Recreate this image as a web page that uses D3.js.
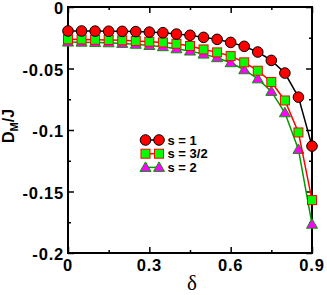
<!DOCTYPE html>
<html>
<head>
<meta charset="utf-8">
<script src="https://cdn.jsdelivr.net/npm/d3@7"></script>
<style>
  body { margin: 0; background: #fff; }
  text { font-family: "Liberation Sans", Arial, sans-serif; font-weight: bold; }
</style>
</head>
<body>
<div id="chart-area"></div>
<script>
// data
const delta = [0, 0.05, 0.1, 0.15, 0.2, 0.25, 0.3, 0.35, 0.4, 0.45, 0.5, 0.55, 0.6, 0.65, 0.7, 0.75, 0.8, 0.85, 0.9];
const s1  = [-0.0195, -0.0195, -0.0196, -0.0197, -0.0198, -0.0200, -0.0204, -0.0209, -0.0220, -0.0230, -0.0247, -0.0263, -0.0288, -0.0320, -0.0366, -0.0434, -0.0537, -0.0733, -0.1131];
const s32 = [-0.0263, -0.0264, -0.0266, -0.0268, -0.0271, -0.0276, -0.0282, -0.0288, -0.0299, -0.0317, -0.0345, -0.0369, -0.0399, -0.0450, -0.0518, -0.0610, -0.0760, -0.1020, -0.1570];
const s2  = [-0.0285, -0.0286, -0.0288, -0.0291, -0.0296, -0.0303, -0.0313, -0.0323, -0.0340, -0.0358, -0.0383, -0.0412, -0.0453, -0.0510, -0.0584, -0.0686, -0.0860, -0.1158, -0.1766];
const xTicks = [0, 0.3, 0.6, 0.9];
const yTicks = [0, -0.05, -0.1, -0.15, -0.2];
const labels = ["s = 1", "s = 3/2", "s = 2"];

const w = 327, h = 295;
const m = { t: 7, l: 68, r: 15, b: 42 };
const width = w - m.l - m.r;
const height = h - m.t - m.b;

let svg = d3.select("#chart-area").append("svg")
  .attr("width", w).attr("height", h);

let g = svg.append("g").attr("transform", "translate(" + m.l + "," + m.t + ")");

let x = d3.scaleLinear().domain([0, 0.9]).range([0, width]);
let y = d3.scaleLinear().domain([-0.2, 0]).range([height, 0]);

const xMinor = [0.15, 0.45, 0.75];
const yMinor = [-0.025, -0.075, -0.125, -0.175];

// ticks on all four sides, pointing inward
function ticks(axis, vals, size) {
  return axis.tickValues(vals).tickSize(size).tickFormat("");
}
g.append("g").attr("transform", "translate(0," + height + ")").call(ticks(d3.axisTop(x), xTicks, 6));
g.append("g").attr("transform", "translate(0," + height + ")").call(ticks(d3.axisTop(x), xMinor, 3));
g.append("g").call(ticks(d3.axisBottom(x), xTicks, 6));
g.append("g").call(ticks(d3.axisBottom(x), xMinor, 3));
g.append("g").call(ticks(d3.axisRight(y), yTicks, 6));
g.append("g").call(ticks(d3.axisRight(y), yMinor, 3));
g.append("g").attr("transform", "translate(" + width + ",0)").call(ticks(d3.axisLeft(y), yTicks, 6));
g.append("g").attr("transform", "translate(" + width + ",0)").call(ticks(d3.axisLeft(y), yMinor, 3));
g.selectAll(".domain").remove();
g.selectAll(".tick line").attr("stroke", "#000").attr("stroke-width", 1.5);

g.append("rect").attr("width", width).attr("height", height)
  .attr("fill", "none").attr("stroke", "#000").attr("stroke-width", 2);

// tick labels
g.selectAll(".xl").data(xTicks).enter().append("text")
  .attr("x", d => x(d)).attr("y", height + 18)
  .attr("text-anchor", "middle").attr("font-size", "16.5px")
  .attr("letter-spacing", "0.8px")
  .text(d => d === 0 ? "0" : d3.format(".1f")(d));
g.selectAll(".yl").data(yTicks).enter().append("text")
  .attr("x", -4).attr("y", d => y(d) + 7)
  .attr("text-anchor", "end").attr("font-size", "16.5px")
  .attr("letter-spacing", "0.8px")
  .text(d => d === 0 ? "0" : String(d));

// axis titles
g.append("text")
  .attr("x", width / 2 + 2).attr("y", height + 37)
  .attr("text-anchor", "middle").attr("font-size", "21px")
  .style("font-family", "'Liberation Serif', serif").style("font-weight", "normal")
  .text("δ");
let yl = g.append("text")
  .attr("transform", "translate(" + (-54) + "," + (height / 2 - 4) + ") rotate(-90)")
  .attr("text-anchor", "middle").attr("font-size", "16px");
yl.append("tspan").text("D");
yl.append("tspan").attr("font-size", "11px").attr("dy", 4).text("M");
yl.append("tspan").attr("dy", -4).text("/J");

const series = [
  { vals: s1, line: "#000", fill: "#ff0000", stroke: "#000", shape: "circle" },
  { vals: s32, line: "#ff0000", fill: "#00ff00", stroke: "#ff0000", shape: "square" },
  { vals: s2, line: "#009900", fill: "#ff00ff", stroke: "#009900", shape: "triangle" }
];

function marker(sel, s) {
  if (s.shape === "circle") {
    sel.append("circle").attr("r", 5.3);
  } else if (s.shape === "square") {
    sel.append("rect").attr("x", -4.5).attr("y", -4.5).attr("width", 9).attr("height", 9);
  } else {
    sel.append("path").attr("d", "M0,-5.5L5.5,4L-5.5,4Z");
  }
  sel.selectAll("*").attr("fill", s.fill).attr("stroke", s.stroke).attr("stroke-width", 1);
}

const line = d3.line().x((d, i) => x(delta[i])).y(d => y(d));

series.slice().reverse().forEach(s => {
  g.append("path").datum(s.vals)
    .attr("d", line).attr("fill", "none")
    .attr("stroke", s.line).attr("stroke-width", 1.5);
  g.selectAll(null).data(s.vals).enter().append("g")
    .attr("transform", (d, i) => "translate(" + x(delta[i]) + "," + y(d) + ")")
    .each(function () { marker(d3.select(this), s); });
});

// legend
let lg = svg.append("g").attr("transform", "translate(145.5,140)");
series.forEach((s, i) => {
  let row = lg.append("g").attr("transform", "translate(0," + (i * 13.7) + ")");
  row.append("line").attr("x1", 0).attr("x2", 13.5)
    .attr("stroke", s.line).attr("stroke-width", 1.5);
  [0, 13.5].forEach(px => {
    marker(row.append("g").attr("transform", "translate(" + px + ",0)"), s);
  });
  row.append("text").attr("x", 22).attr("y", 4.5).attr("font-size", "13px").text(labels[i]);
});
</script>
</body>
</html>
